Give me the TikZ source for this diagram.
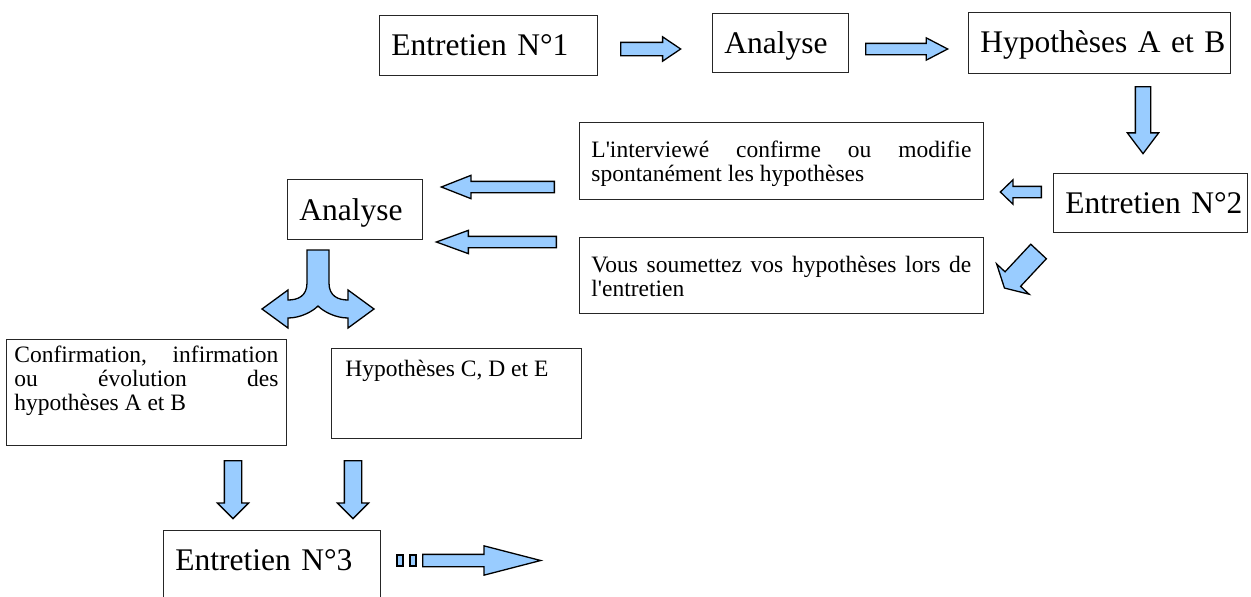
\documentclass[tikz,border=0pt]{standalone}
\usepackage{fontspec}
\setmainfont{Liberation Serif}[Ligatures=TeXOff]
\usepackage{tikz}
\usetikzlibrary{shapes.arrows}
\definecolor{arrowblue}{HTML}{99CCFF}
\hyphenpenalty=10000
\tolerance=10000

\begin{document}
\begin{tikzpicture}[
  x=1pt, y=-1pt,
  box/.style={draw=black!85, line width=0.8pt, anchor=north west, inner xsep=12pt, inner ysep=0pt},
  big/.style={box, align=left, font=\fontsize{31.5}{36}\selectfont},
  small/.style={box, align=justify, font=\fontsize{23.5}{24}\selectfont},
  barrow/.style={single arrow, draw, fill=arrowblue, line width=1.3pt, inner xsep=0pt, single arrow head indent=0pt, anchor=tail},
  stripe/.style={draw, fill=arrowblue, line width=1.3pt, inner sep=0pt, minimum width=6pt, minimum height=11pt},
]
  \clip (0,0) rectangle (1251,597);

  \node[big, text width=194pt, text height=40pt, text depth=20pt] (ent1) at (379,15) {Entretien~N°1};
  \node[big, text width=112pt, text height=40pt, text depth=19pt] (ana1) at (712,13) {Analyse};
  \node[big, text width=238pt, text height=40pt, text depth=21pt] (hypAB) at (968,12) {Hypothèses~A~et~B};
  \node[big, text width=170pt, text height=40pt, text depth=19pt] (ent2) at (1053,173) {Entretien~N°2};
  \node[small, text width=380pt, text height=35pt, text depth=42pt] (confirme) at (579,122)
    {L'interviewé confirme ou modifie\linebreak spontanément les hypothèses};
  \node[small, text width=380pt, text height=35pt, text depth=41pt] (soumet) at (579,237)
    {Vous soumettez vos hypothèses lors de\linebreak l'entretien};
  \node[big, text width=111pt, text height=41pt, text depth=19pt] (ana2) at (287,179) {Analyse};
  \node[small, text width=264pt, inner xsep=8pt, text height=23pt, text depth=83pt] (evol) at (6,339)
    {Confirmation, infirmation\linebreak ou évolution des\linebreak hypothèses A et B};
  \node[small, text width=222pt, inner xsep=14pt, text height=28pt, text depth=62pt] (hypCDE) at (331,348)
    {Hypothèses C, D et E};
  \node[big, text width=193pt, text height=40pt, text depth=80pt] (ent3) at (163,530) {Entretien~N°3};

  \node[barrow, minimum height=60pt, minimum width=23pt, inner ysep=6pt, single arrow head extend=5.5pt, single arrow tip angle=68] (a1) at (620,49) {};
  \node[barrow, minimum height=82pt, minimum width=21pt, inner ysep=5pt, single arrow head extend=5.5pt, single arrow tip angle=55] (a2) at (865,49) {};
  \node[barrow, rotate=-90, minimum height=67pt, minimum width=30pt, inner ysep=7pt, single arrow head extend=8pt, single arrow tip angle=74] (a3) at (1143,86) {};
  \node[barrow, rotate=180, minimum height=41pt, minimum width=23pt, inner ysep=5pt, single arrow head extend=6.5pt, single arrow tip angle=88] (a4) at (1042,192) {};
  \node[barrow, rotate=-133, minimum height=50pt, minimum width=43pt, inner ysep=10pt, single arrow head extend=11.5pt, single arrow tip angle=122] (a5) at (1039,251) {};
  \node[barrow, rotate=180, minimum height=113pt, minimum width=22pt, inner ysep=5pt, single arrow head extend=6pt, single arrow tip angle=43] (a6) at (555,187) {};
  \node[barrow, rotate=180, minimum height=120pt, minimum width=22pt, inner ysep=5pt, single arrow head extend=6pt, single arrow tip angle=40] (a7) at (557,242) {};
  \node[barrow, rotate=-90, minimum height=58pt, minimum width=30pt, inner ysep=8pt, single arrow head extend=7pt, single arrow tip angle=90] (a8) at (233,460) {};
  \node[barrow, rotate=-90, minimum height=58pt, minimum width=30pt, inner ysep=8pt, single arrow head extend=7pt, single arrow tip angle=90] (a9) at (353,460) {};
  \node[stripe] (st1) at (400,560.5) {};
  \node[stripe] (st2) at (413,560.5) {};
  \node[barrow, minimum height=118pt, minimum width=28pt, inner ysep=5.5pt, single arrow head extend=8.5pt, single arrow tip angle=29] (a10) at (422,560.5) {};

  \draw[fill=arrowblue, line width=1.3pt] (307,250) -- (307,283)
    .. controls (307,296) and (298,300) .. (288,300) -- (288,290) -- (262,309)
    -- (288,328) -- (288,318) .. controls (300,318) and (312,312) .. (318,306)
    .. controls (324,312) and (336,318) .. (348,318) -- (348,328) -- (374,309)
    -- (348,290) -- (348,300) .. controls (338,300) and (329,296) .. (329,283)
    -- (329,250) -- cycle;
\end{tikzpicture}
\end{document}
